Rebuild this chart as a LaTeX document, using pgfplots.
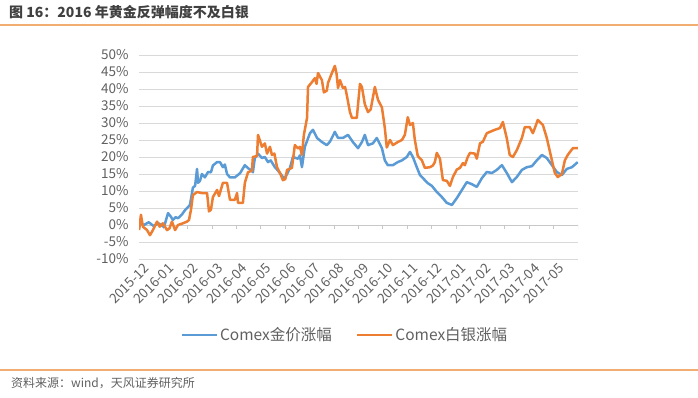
\documentclass[border=0pt]{standalone}
\usepackage{fontspec}
\setmainfont{Noto Sans CJK SC}
\usepackage{pgfplots}
\pgfplotsset{compat=1.18}
\definecolor{cblue}{HTML}{5B9BD5}
\definecolor{corange}{HTML}{ED7D31}
\definecolor{cgrid}{HTML}{D9D9D9}
\definecolor{czero}{HTML}{C8C8C8}
\definecolor{ctext}{HTML}{606060}
\definecolor{ctitle}{HTML}{404040}
\definecolor{cline}{HTML}{F2AE72}
\begin{document}
\begin{tikzpicture}
\useasboundingbox (0pt,0pt) rectangle (698pt,398pt);
\node[anchor=west, text=ctitle, font=\fontsize{14}{16}\selectfont\bfseries, inner sep=0] at (9pt,386pt) {图 16：2016 年黄金反弹幅度不及白银};
\draw[cline, line width=1.3pt] (0pt,373pt) -- (698pt,373pt);
\draw[cline, line width=1.3pt] (0pt,28pt) -- (698pt,28pt);
\node[anchor=west, text=ctext, font=\fontsize{12}{14}\selectfont, inner sep=0] at (11pt,15pt) {资料来源：wind，天风证券研究所};
\begin{axis}[
  at={(139pt,139pt)}, anchor=south west,
  scale only axis, width=439pt, height=204pt,
  xmin=0, xmax=18, ymin=-10, ymax=50,
  axis line style={draw=none},
  tick style={draw=none},
  ytick={-10,-5,0,5,10,15,20,25,30,35,40,45,50},
  yticklabels={-10\%,-5\%,0\%,5\%,10\%,15\%,20\%,25\%,30\%,35\%,40\%,45\%,50\%},
  yticklabel style={text=ctext, font=\fontsize{13.5}{15}\selectfont, xshift=-7pt},
  xtick={0,1,...,17},
  xticklabels={2015-12,2016-01,2016-02,2016-03,2016-04,2016-05,2016-06,2016-07,2016-08,2016-09,2016-10,2016-11,2016-12,2017-01,2017-02,2017-03,2017-04,2017-05},
  xticklabel style={rotate=45, anchor=north east, text=ctext, font=\fontsize{13.5}{15}\selectfont, xshift=4pt, yshift=-2pt},
  ymajorgrids, grid style={cgrid, line width=0.9pt},
  legend columns=2,
  legend style={at={(0.469,-0.373)}, anchor=center, draw=none, fill=none, text=ctext, font=\fontsize{15.5}{17}\selectfont, /tikz/every even column/.append style={column sep=22pt}},
  legend image code/.code={\draw[#1] (0pt,0pt) -- (35pt,0pt);},
]
\draw[czero, line width=0.9pt] (axis cs:0,0) -- (axis cs:18,0);
\pgfplotsinvokeforeach{0,...,18}{\draw[czero, line width=0.9pt] (axis cs:#1,0) -- ++(0pt,-4.5pt);}
\addplot[cblue, line width=2.5pt, line join=round] coordinates {
(0.00,-1.0)(0.04,0.6)(0.20,0.0)(0.40,0.8)(0.60,-0.3)(0.80,0.5)(1.00,-0.5)(1.07,0.5)(1.19,3.5)(1.30,2.5)(1.39,1.5)(1.50,2.3)(1.60,2.0)(1.75,3.0)(1.89,4.4)(2.00,5.2)(2.09,5.9)(2.21,11.0)(2.30,11.5)(2.38,16.5)(2.42,12.4)(2.50,13.0)(2.58,15.0)(2.70,14.0)(2.83,15.6)(2.95,15.5)(3.03,17.5)(3.20,18.5)(3.32,18.5)(3.44,17.0)(3.52,17.8)(3.61,15.0)(3.73,14.0)(3.93,14.0)(4.14,15.2)(4.34,17.6)(4.47,16.7)(4.63,16.0)(4.67,15.5)(4.75,19.7)(4.88,21.0)(5.04,19.7)(5.16,20.0)(5.29,18.5)(5.40,19.0)(5.57,17.0)(5.70,16.0)(5.86,14.5)(5.95,13.5)(6.07,15.0)(6.19,16.8)(6.31,20.0)(6.52,19.5)(6.60,20.5)(6.68,17.0)(6.80,23.0)(7.01,27.0)(7.13,28.0)(7.30,25.6)(7.50,24.4)(7.70,23.5)(7.83,24.5)(8.03,27.4)(8.16,25.6)(8.36,25.6)(8.57,26.5)(8.77,24.4)(8.98,22.6)(9.14,24.4)(9.26,26.5)(9.39,23.5)(9.59,24.0)(9.75,25.6)(9.96,22.6)(10.08,19.0)(10.20,17.6)(10.41,17.6)(10.61,18.5)(10.78,19.0)(10.98,20.0)(11.11,21.5)(11.23,20.0)(11.39,17.0)(11.52,14.7)(11.64,13.8)(11.84,12.3)(12.01,11.5)(12.21,9.7)(12.42,8.2)(12.62,6.5)(12.83,5.9)(13.03,7.9)(13.24,10.3)(13.44,12.6)(13.65,12.0)(13.85,11.2)(14.06,13.8)(14.26,15.6)(14.47,15.3)(14.67,16.2)(14.88,17.6)(15.08,15.3)(15.29,12.6)(15.49,14.1)(15.70,16.2)(15.90,17.0)(16.11,17.3)(16.31,19.0)(16.52,20.6)(16.72,19.7)(16.93,17.6)(17.13,15.6)(17.34,14.7)(17.54,16.5)(17.75,17.0)(17.99,18.5)
};
\addlegendentry{Comex金价涨幅}
\addplot[corange, line width=2.5pt, line join=round] coordinates {
(0.00,-1.5)(0.08,3.0)(0.16,-0.5)(0.33,-1.5)(0.45,-3.0)(0.57,-1.5)(0.74,1.0)(0.85,-0.5)(0.98,0.5)(1.15,-1.5)(1.25,-1.0)(1.35,1.0)(1.48,-1.5)(1.60,0.0)(1.80,0.5)(1.97,1.0)(2.05,1.5)(2.13,4.4)(2.21,8.8)(2.38,9.7)(2.58,9.4)(2.79,9.4)(2.87,4.0)(2.95,4.5)(3.03,8.2)(3.20,10.3)(3.28,8.5)(3.44,12.4)(3.61,12.4)(3.73,7.4)(3.93,7.4)(4.02,9.4)(4.06,6.5)(4.26,6.5)(4.34,12.4)(4.47,15.5)(4.63,16.0)(4.67,20.0)(4.84,20.3)(4.88,26.5)(5.04,23.0)(5.16,24.0)(5.25,21.0)(5.37,23.0)(5.45,20.6)(5.55,21.0)(5.66,17.0)(5.78,15.3)(5.90,13.2)(6.00,13.5)(6.07,16.2)(6.27,16.8)(6.39,23.5)(6.52,22.5)(6.60,23.0)(6.68,20.6)(6.76,26.5)(6.89,31.5)(6.93,40.6)(7.09,42.0)(7.21,43.2)(7.28,41.5)(7.34,44.7)(7.50,42.6)(7.58,39.0)(7.70,39.5)(7.75,41.8)(7.91,44.7)(8.03,46.8)(8.10,44.5)(8.16,40.3)(8.24,42.6)(8.36,40.3)(8.45,40.6)(8.52,38.2)(8.65,33.2)(8.73,31.5)(8.93,31.5)(9.06,41.5)(9.14,40.6)(9.26,35.5)(9.39,33.2)(9.50,34.0)(9.67,40.6)(9.80,36.8)(9.96,34.6)(10.08,28.5)(10.16,22.8)(10.29,25.0)(10.41,23.5)(10.61,24.4)(10.78,25.0)(10.90,26.5)(11.02,31.7)(11.11,29.4)(11.23,30.0)(11.31,25.0)(11.43,20.3)(11.60,19.0)(11.72,16.8)(11.93,17.0)(12.05,17.5)(12.13,18.5)(12.21,21.2)(12.34,19.5)(12.46,13.2)(12.62,13.0)(12.75,11.5)(12.87,14.1)(13.03,16.3)(13.16,16.8)(13.28,18.2)(13.36,17.6)(13.48,20.0)(13.57,21.2)(13.77,21.0)(13.85,19.5)(13.98,24.0)(14.10,24.5)(14.26,27.0)(14.39,27.4)(14.59,28.0)(14.80,28.5)(14.92,30.3)(15.08,25.5)(15.20,20.6)(15.33,20.0)(15.49,22.0)(15.70,25.6)(15.82,28.8)(16.02,28.8)(16.15,27.0)(16.23,28.5)(16.35,30.9)(16.56,29.4)(16.72,25.6)(16.93,19.0)(17.05,15.3)(17.17,14.1)(17.34,15.0)(17.46,19.0)(17.58,20.6)(17.79,22.6)(17.99,22.6)
};
\addlegendentry{Comex白银涨幅}
\end{axis}
\end{tikzpicture}
\end{document}
